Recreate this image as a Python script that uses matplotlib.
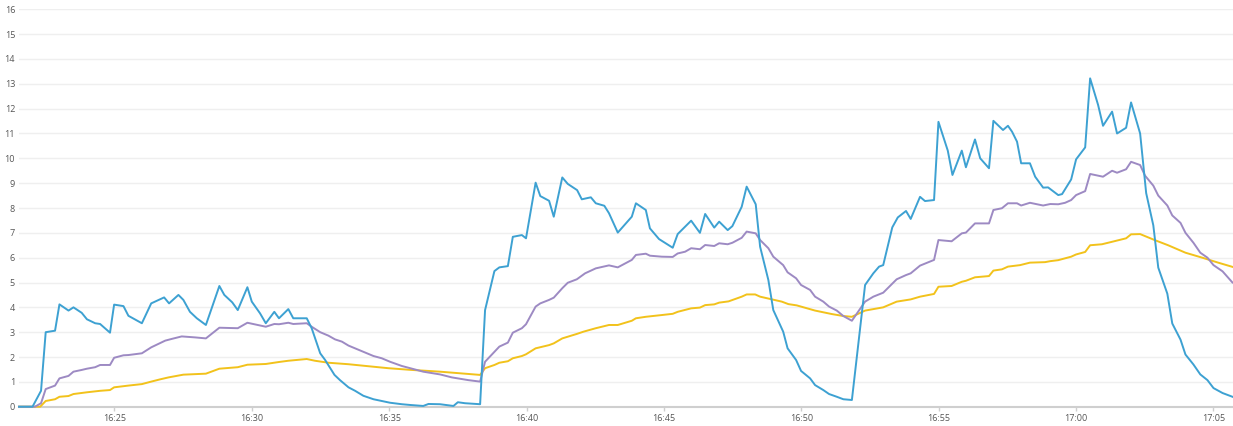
import matplotlib
matplotlib.use("Agg")
import matplotlib.pyplot as plt
import matplotlib.dates as mdates
import pandas as pd

# minutes after 16:00 and values
blue_min = [21.53, 22.02, 22.33, 22.50, 22.84, 23.00, 23.33, 23.51, 23.81, 24.00, 24.30, 24.48, 24.84, 24.99,
            25.33, 25.51, 26.00, 26.34, 26.81, 26.99, 27.33, 27.51, 27.75, 28.00, 28.33, 28.82, 29.00, 29.29,
            29.49, 29.84, 30.00, 30.30, 30.51, 30.82, 30.99, 31.33, 31.51, 32.00, 32.18, 32.49, 32.67, 33.01,
            33.21, 33.52, 33.76, 34.06, 34.43, 34.73, 35.03, 35.46, 35.76, 36.24, 36.43, 36.85, 37.34, 37.50,
            37.76, 38.31, 38.49, 38.83, 39.01, 39.32, 39.50, 39.83, 39.98, 40.33, 40.50, 40.82, 40.99, 41.30,
            41.50, 41.84, 42.01, 42.34, 42.52, 42.83, 43.00, 43.32, 43.83, 43.98, 44.34, 44.49, 44.82, 45.16,
            45.32, 45.50, 45.99, 46.31, 46.50, 46.83, 47.01, 47.32, 47.49, 47.83, 48.01, 48.34, 48.50, 48.80,
            48.98, 49.34, 49.50, 49.81, 49.99, 50.32, 50.50, 50.80, 51.01, 51.29, 51.53, 51.84, 52.32, 52.62,
            52.83, 52.98, 53.31, 53.51, 53.81, 53.98, 54.32, 54.50, 54.83, 54.99, 55.33, 55.50, 55.84, 55.99,
            56.32, 56.51, 56.83, 56.99, 57.34, 57.52, 57.67, 57.85, 58.00, 58.32, 58.51, 58.80, 58.98, 59.35,
            59.49, 59.82, 60.00, 60.33, 60.51, 60.80, 60.98, 61.31, 61.49, 61.82, 62.00, 62.33, 62.55, 62.81,
            62.99, 63.32, 63.50, 63.80, 63.98, 64.27, 64.52, 64.78, 65.00, 65.33, 65.69]
blue_val = [0, 0, 0.64, 3.0, 3.06, 4.12, 3.87, 4.0, 3.78, 3.52, 3.36, 3.33, 2.98, 4.11,
            4.05, 3.66, 3.36, 4.16, 4.4, 4.16, 4.5, 4.3, 3.82, 3.56, 3.29, 4.86, 4.5, 4.2,
            3.89, 4.81, 4.23, 3.76, 3.36, 3.82, 3.56, 3.93, 3.56, 3.56, 3.16, 2.15, 1.88, 1.28,
            1.07, 0.78, 0.64, 0.44, 0.3, 0.23, 0.16, 0.1, 0.07, 0.03, 0.11, 0.1, 0.03, 0.18,
            0.14, 0.1, 3.89, 5.46, 5.61, 5.66, 6.84, 6.91, 6.78, 9.02, 8.48, 8.29, 7.65, 9.23,
            8.97, 8.72, 8.35, 8.43, 8.19, 8.09, 7.79, 7.01, 7.65, 8.19, 7.92, 7.18, 6.75, 6.51,
            6.4, 6.95, 7.49, 7.0, 7.76, 7.21, 7.45, 7.11, 7.27, 8.05, 8.86, 8.15, 6.44, 5.1,
            3.89, 3.02, 2.35, 1.88, 1.44, 1.14, 0.87, 0.67, 0.51, 0.4, 0.3, 0.27, 4.9, 5.37,
            5.64, 5.7, 7.22, 7.62, 7.88, 7.56, 8.45, 8.28, 8.32, 11.47, 10.31, 9.33, 10.31, 9.64,
            10.76, 10.0, 9.6, 11.51, 11.14, 11.31, 11.07, 10.67, 9.8, 9.8, 9.26, 8.82, 8.83, 8.52,
            8.56, 9.15, 9.96, 10.44, 13.22, 12.15, 11.31, 11.88, 11.0, 11.23, 12.25, 11.0, 8.6, 7.3,
            5.6, 4.55, 3.35, 2.7, 2.1, 1.7, 1.3, 1.07, 0.75, 0.55, 0.4]

purple_min = [21.53, 22.11, 22.33, 22.50, 22.84, 23.00, 23.33, 23.51, 23.81, 24.00, 24.30, 24.48, 24.84, 24.99,
              25.33, 25.51, 26.00, 26.34, 26.85, 27.09, 27.45, 27.94, 28.33, 28.82, 29.49, 29.84, 30.51, 30.82,
              30.99, 31.33, 31.51, 32.00, 32.18, 32.49, 32.79, 33.03, 33.28, 33.52, 33.82, 34.06, 34.43, 34.73,
              35.03, 35.46, 35.76, 36.24, 36.85, 37.28, 37.88, 38.31, 38.49, 38.83, 39.01, 39.32, 39.50, 39.83,
              39.98, 40.33, 40.50, 40.82, 40.99, 41.30, 41.50, 41.83, 42.13, 42.52, 43.00, 43.32, 43.83, 43.98,
              44.34, 44.49, 44.92, 45.32, 45.50, 45.77, 45.99, 46.31, 46.50, 46.83, 47.01, 47.32, 47.49, 47.83,
              48.01, 48.34, 48.50, 48.80, 48.98, 49.34, 49.50, 49.81, 49.99, 50.32, 50.50, 50.80, 51.01, 51.29,
              51.53, 51.84, 52.32, 52.62, 52.98, 53.47, 53.81, 53.98, 54.32, 54.83, 54.99, 55.47, 55.84, 55.99,
              56.32, 56.83, 56.99, 57.30, 57.52, 57.85, 58.00, 58.32, 58.80, 59.06, 59.35, 59.60, 59.82, 60.00,
              60.33, 60.51, 60.98, 61.31, 61.49, 61.82, 62.00, 62.33, 62.51, 62.81, 62.99, 63.32, 63.50, 63.80,
              63.98, 64.27, 64.52, 64.78, 65.00, 65.33, 65.69]
purple_val = [0, 0, 0.14, 0.71, 0.85, 1.14, 1.24, 1.41, 1.48, 1.53, 1.59, 1.68, 1.68, 1.97,
              2.07, 2.08, 2.15, 2.39, 2.66, 2.73, 2.83, 2.79, 2.75, 3.18, 3.16, 3.38, 3.22, 3.33,
              3.32, 3.38, 3.33, 3.36, 3.22, 3.0, 2.86, 2.71, 2.62, 2.46, 2.32, 2.21, 2.04, 1.95,
              1.81, 1.64, 1.55, 1.41, 1.3, 1.18, 1.07, 1.01, 1.81, 2.21, 2.42, 2.58, 2.98, 3.16,
              3.32, 4.03, 4.16, 4.3, 4.39, 4.77, 4.99, 5.13, 5.37, 5.57, 5.69, 5.61, 5.91, 6.11,
              6.16, 6.08, 6.04, 6.03, 6.17, 6.24, 6.38, 6.34, 6.51, 6.47, 6.58, 6.54, 6.6, 6.8,
              7.05, 6.98, 6.71, 6.38, 6.04, 5.7, 5.41, 5.17, 4.9, 4.7, 4.43, 4.23, 4.03, 3.87,
              3.65, 3.46, 4.23, 4.43, 4.59, 5.13, 5.3, 5.37, 5.68, 5.91, 6.71, 6.66, 6.98, 7.01,
              7.38, 7.38, 7.92, 7.99, 8.19, 8.19, 8.1, 8.21, 8.1, 8.16, 8.15, 8.21, 8.32, 8.52,
              8.68, 9.37, 9.26, 9.5, 9.42, 9.56, 9.86, 9.73, 9.3, 8.9, 8.5, 8.1, 7.7, 7.4,
              7.0, 6.6, 6.2, 6.0, 5.7, 5.45, 5.0]

yellow_min = [21.53, 22.30, 22.50, 22.84, 23.00, 23.33, 23.51, 24.00, 24.48, 24.84, 24.99, 25.51, 26.00, 26.34,
              26.66, 26.97, 27.51, 28.33, 28.82, 29.49, 29.84, 30.51, 30.99, 31.33, 32.00, 32.30, 32.79, 33.52,
              34.24, 34.97, 35.82, 36.43, 36.85, 38.31, 38.49, 38.83, 39.01, 39.32, 39.50, 39.83, 39.98, 40.33,
              40.82, 40.99, 41.30, 41.83, 42.07, 42.52, 43.00, 43.32, 43.83, 43.98, 44.34, 44.92, 45.32, 45.50,
              45.99, 46.31, 46.50, 46.83, 47.01, 47.35, 47.83, 48.01, 48.32, 48.50, 49.29, 49.53, 49.83, 50.50,
              51.11, 51.53, 51.84, 52.32, 52.98, 53.47, 53.98, 54.32, 54.83, 54.99, 55.47, 55.84, 55.99, 56.32,
              56.83, 56.99, 57.30, 57.52, 57.96, 58.32, 58.87, 59.06, 59.35, 59.82, 60.00, 60.33, 60.51, 60.94,
              61.31, 61.82, 62.00, 62.33, 62.88, 63.35, 63.98, 64.59, 65.17, 65.69]
yellow_val = [0, 0, 0.23, 0.3, 0.4, 0.43, 0.51, 0.58, 0.64, 0.67, 0.78, 0.85, 0.91, 1.01,
              1.1, 1.18, 1.29, 1.33, 1.53, 1.59, 1.69, 1.72, 1.8, 1.85, 1.92, 1.85, 1.77, 1.71,
              1.63, 1.55, 1.48, 1.44, 1.41, 1.28, 1.55, 1.68, 1.77, 1.83, 1.95, 2.04, 2.11, 2.35,
              2.48, 2.55, 2.75, 2.93, 3.02, 3.16, 3.29, 3.29, 3.46, 3.56, 3.62, 3.69, 3.74, 3.82,
              3.96, 3.99, 4.09, 4.12, 4.19, 4.24, 4.43, 4.52, 4.52, 4.43, 4.23, 4.13, 4.08, 3.87,
              3.73, 3.65, 3.62, 3.87, 4.0, 4.23, 4.32, 4.43, 4.54, 4.83, 4.86, 5.03, 5.07, 5.21,
              5.26, 5.48, 5.53, 5.64, 5.7, 5.8, 5.82, 5.86, 5.9, 6.04, 6.13, 6.23, 6.5, 6.54,
              6.64, 6.78, 6.94, 6.95, 6.7, 6.5, 6.2, 6.0, 5.8, 5.63]

y_ticks = list(range(0, 17))
x_start_min, x_end_min = 21.51, 65.71

base = pd.Timestamp("2024-01-01 16:00:00")


def to_time(mins):
    return base + pd.to_timedelta(pd.Series(mins), unit="min")


W, H = 1233, 426
fig = plt.figure(figsize=(W / 100, H / 100), dpi=100)
left, right = 18.5 / W, 1233 / W
bottom, top = (H - 406.7) / H, (H - 9.3) / H
ax = fig.add_axes([left, bottom, right - left, top - bottom])

ax.plot(to_time(yellow_min), yellow_val, color="#f2c21b", lw=1.4, clip_on=False, zorder=3)
ax.plot(to_time(purple_min), purple_val, color="#9d8ac3", lw=1.4, clip_on=False, zorder=4)
ax.plot(to_time(blue_min), blue_val, color="#3da1d2", lw=1.4, clip_on=False, zorder=5)

ax.set_ylim(0, 16)
ax.set_xlim(mdates.date2num(base + pd.Timedelta(minutes=x_start_min)),
            mdates.date2num(base + pd.Timedelta(minutes=x_end_min)))
ax.set_yticks(y_ticks)
ax.yaxis.grid(True, color="#efefef", lw=1)
ax.set_axisbelow(True)

ax.xaxis.set_major_locator(mdates.MinuteLocator(byminute=range(0, 60, 5)))
ax.xaxis.set_major_formatter(mdates.DateFormatter("%H:%M"))

for s in ["top", "right", "left"]:
    ax.spines[s].set_visible(False)
ax.spines["bottom"].set_color("#cfcfcf")
ax.spines["bottom"].set_linewidth(1.5)

ax.tick_params(axis="y", length=0, pad=2.5, labelsize=6.5, labelcolor="#555555")
ax.tick_params(axis="x", length=3, width=1, color="#cfcfcf", pad=2, labelsize=6.5, labelcolor="#555555")
for lab in ax.get_xticklabels() + ax.get_yticklabels():
    lab.set_fontfamily("Open Sans")

fig.savefig("out.png", dpi=100)
